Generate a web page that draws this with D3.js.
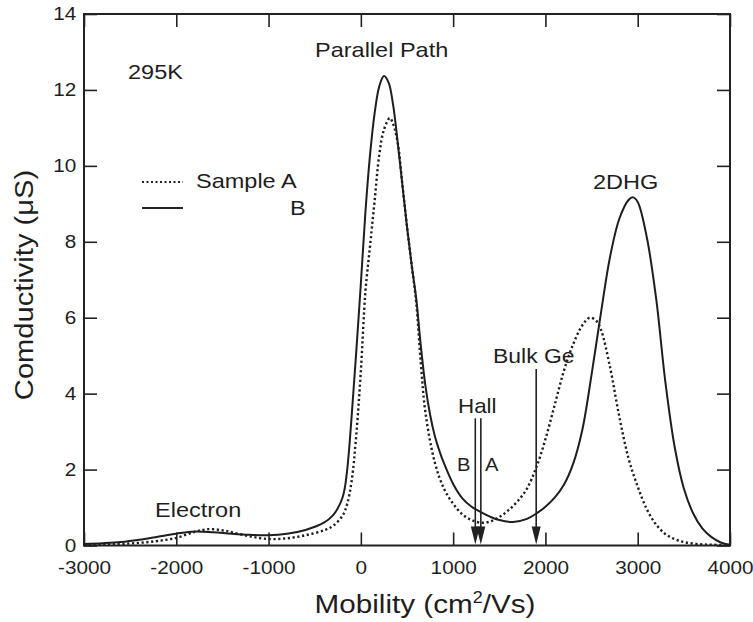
<!DOCTYPE html>
<html>
<head>
<meta charset="utf-8">
<script src="https://cdn.jsdelivr.net/npm/d3@7"></script>
<style>
  body { margin: 0; background: #fff; }
  text { font-family: "Liberation Sans", Arial, sans-serif; fill: #1e1e1e; }
</style>
</head>
<body>
<script>
// mobility (cm^2/Vs) and conductivity (uS)
const muA = [-3000, -2800, -2600, -2400, -2200, -2000, -1800, -1650, -1500, -1400, -1200, -1000, -800, -600, -400, -300, -200, -150, -100, -50, 0, 50, 100, 150, 200, 250, 314, 350, 400, 450, 500, 550, 600, 650, 700, 800, 900, 1000, 1100, 1200, 1300, 1400, 1500, 1600, 1700, 1800, 1900, 2000, 2100, 2200, 2300, 2400, 2480, 2550, 2600, 2700, 2800, 2900, 3000, 3100, 3200, 3300, 3400, 3500, 3600, 3700, 3800, 4000];
const sigmaA = [0.01, 0.02, 0.04, 0.07, 0.12, 0.2, 0.36, 0.43, 0.4, 0.35, 0.24, 0.17, 0.19, 0.27, 0.4, 0.52, 0.78, 1.08, 1.7, 2.9, 4.6, 6.7, 7.9, 9.1, 10.3, 10.95, 11.26, 11.1, 10.6, 9.5, 8.4, 7.4, 6.4, 4.8, 3.5, 2.2, 1.5, 1.1, 0.82, 0.67, 0.6, 0.63, 0.75, 0.93, 1.17, 1.5, 2.05, 2.8, 3.7, 4.6, 5.3, 5.8, 6.0, 5.92, 5.7, 4.7, 3.4, 2.3, 1.55, 0.95, 0.55, 0.3, 0.17, 0.09, 0.05, 0.03, 0.02, 0.01];

const muB = [-3000, -2800, -2600, -2400, -2200, -2000, -1800, -1600, -1400, -1200, -1000, -800, -600, -400, -300, -250, -200, -175, -150, -125, -100, -75, -50, 0, 50, 100, 150, 200, 250, 300, 350, 400, 450, 500, 550, 600, 650, 700, 750, 800, 850, 900, 1000, 1100, 1200, 1300, 1400, 1500, 1650, 1800, 1900, 2000, 2100, 2200, 2300, 2400, 2500, 2600, 2700, 2800, 2900, 2950, 3000, 3100, 3200, 3300, 3400, 3500, 3600, 3700, 3800, 3900, 4000];
const sigmaB = [0.04, 0.06, 0.09, 0.15, 0.23, 0.31, 0.37, 0.35, 0.31, 0.28, 0.27, 0.31, 0.41, 0.6, 0.8, 0.98, 1.25, 1.5, 1.95, 2.6, 3.4, 4.25, 5.1, 6.9, 8.8, 10.3, 11.4, 12.1, 12.37, 12.2, 11.6, 10.6, 9.5, 8.4, 7.4, 6.5, 5.25, 4.2, 3.45, 2.9, 2.5, 2.17, 1.62, 1.24, 1.02, 0.88, 0.76, 0.67, 0.62, 0.7, 0.84, 1.02, 1.26, 1.6, 2.15, 3.05, 4.5, 6.1, 7.6, 8.6, 9.1, 9.17, 9.05, 8.1, 6.5, 4.3, 2.6, 1.5, 0.85, 0.45, 0.22, 0.08, 0.02];

const xTicks = [-3000, -2000, -1000, 0, 1000, 2000, 3000, 4000];
const yTicks = [0, 2, 4, 6, 8, 10, 12, 14];

// arrows: [mobility, top value]
const hallArrows = [[1240, 3.35], [1300, 3.35]];
const bulkArrow = [[1900, 4.65]];

const W = 753, H = 622;
const pLeft = 84, pRight = 730, pTop = 14, pBottom = 545.5;
const SX = 1.12; // type in the scan is a bit wide

const svg = d3.select("body").append("svg")
  .attr("width", W).attr("height", H);

const x = d3.scaleLinear().domain([-3000, 4000]).range([pLeft, pRight]);
const y = d3.scaleLinear().domain([0, 14]).range([pBottom, pTop]);

// axes with inward ticks
const gx = svg.append("g").attr("transform", `translate(0,${pBottom})`)
  .call(d3.axisBottom(x).tickValues(xTicks).tickSizeInner(-13).tickSizeOuter(0).tickPadding(15).tickFormat(d3.format("d")));
const gy = svg.append("g").attr("transform", `translate(${pLeft},0)`)
  .call(d3.axisLeft(y).tickValues(yTicks).tickSizeInner(-13).tickSizeOuter(0).tickPadding(7));
const gt = svg.append("g").attr("transform", `translate(0,${pTop})`)
  .call(d3.axisTop(x).tickValues(xTicks).tickSizeInner(-13).tickSizeOuter(0).tickFormat(""));
const gr = svg.append("g").attr("transform", `translate(${pRight},0)`)
  .call(d3.axisRight(y).tickValues(yTicks).tickSizeInner(-13).tickSizeOuter(0).tickFormat(""));

[gx, gy, gt, gr].forEach(g => {
  g.select(".domain").remove();
  g.selectAll("line").attr("stroke", "#222").attr("stroke-width", 1.6);
  g.selectAll("text").attr("font-size", 18.5).attr("fill", "#1e1e1e")
    .attr("transform", `scale(${SX},1)`)
    .style("font-family", "'Liberation Sans', Arial, sans-serif");
});
gx.selectAll("text").text(d => d < 0 ? "-" + Math.abs(d) : d);

svg.append("rect")
  .attr("x", pLeft).attr("y", pTop)
  .attr("width", pRight - pLeft).attr("height", pBottom - pTop)
  .attr("fill", "none").attr("stroke", "#222").attr("stroke-width", 2);

// curves
const line = d3.line().x(d => x(d[0])).y(d => y(d[1])).curve(d3.curveCatmullRom.alpha(0.5));

svg.append("path")
  .datum(d3.zip(muB, sigmaB))
  .attr("d", line)
  .attr("fill", "none").attr("stroke", "#1e1e1e").attr("stroke-width", 2);

svg.append("path")
  .datum(d3.zip(muA, sigmaA))
  .attr("d", line)
  .attr("fill", "none").attr("stroke", "#1e1e1e").attr("stroke-width", 2.4)
  .attr("stroke-dasharray", "2.2,2.6");

// arrows
const arrow = (mu, v) => {
  const ax = x(mu), ay0 = y(v), ay1 = pBottom - 1;
  svg.append("line")
    .attr("x1", ax).attr("x2", ax).attr("y1", ay0).attr("y2", ay1 - 14)
    .attr("stroke", "#222").attr("stroke-width", 1.6);
  svg.append("path")
    .attr("d", `M${ax - 4.5},${ay1 - 18}L${ax + 4.5},${ay1 - 18}L${ax},${ay1}Z`)
    .attr("fill", "#222");
};
hallArrows.forEach(a => arrow(a[0], a[1]));
bulkArrow.forEach(a => arrow(a[0], a[1]));

// labels
const label = (txt, tx, ty, size) => svg.append("text")
  .attr("transform", `translate(${tx},${ty}) scale(${SX},1)`)
  .attr("font-size", size).text(txt);

label("295K", 128, 79, 21);
label("Parallel Path", 315, 57, 21);
label("2DHG", 593, 189, 21);
label("Electron", 155, 517, 21);
label("Hall", 458, 413, 20);
label("B", 457, 471, 18);
label("A", 485, 471, 18);
label("Bulk Ge", 493, 363, 20.5);

// legend
svg.append("line").attr("x1", 142).attr("x2", 183).attr("y1", 182).attr("y2", 182)
  .attr("stroke", "#222").attr("stroke-width", 2).attr("stroke-dasharray", "2,2.5");
svg.append("line").attr("x1", 142).attr("x2", 183).attr("y1", 208).attr("y2", 208)
  .attr("stroke", "#222").attr("stroke-width", 2);
label("Sample A", 196, 188, 21);
label("B", 290, 215, 21);

// axis titles
const xt = svg.append("text")
  .attr("transform", `translate(425,613) scale(${SX},1)`)
  .attr("text-anchor", "middle").attr("font-size", 26.5);
xt.append("tspan").text("Mobility (cm");
xt.append("tspan").attr("font-size", 16).attr("dy", -10).text("2");
xt.append("tspan").attr("dy", 10).text("/Vs)");

svg.append("text")
  .attr("transform", `translate(33,285) rotate(-90) scale(${SX},1)`)
  .attr("text-anchor", "middle").attr("font-size", 26)
  .text("Comductivity (\u03BCS)");
</script>
</body>
</html>
